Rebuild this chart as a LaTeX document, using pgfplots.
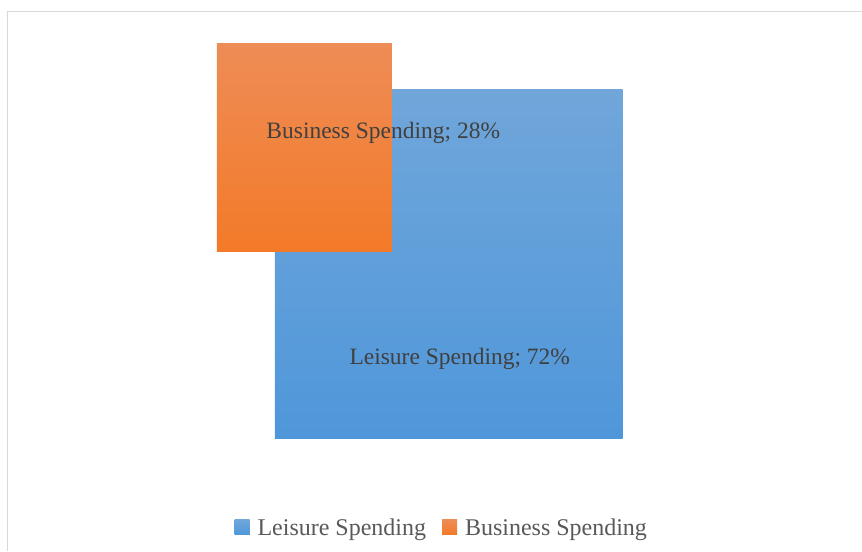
\documentclass[border=0pt]{standalone}
\usepackage{pgfplots}
\pgfplotsset{compat=1.18}
\usepackage{fontspec}
\setmainfont{Liberation Serif}
\definecolor{blueT}{HTML}{70A6DA}
\definecolor{blueB}{HTML}{4F97DA}
\definecolor{blueL}{HTML}{5B9BD5}
\definecolor{orT}{HTML}{EE8C56}
\definecolor{orB}{HTML}{F37A28}
\definecolor{orL}{HTML}{ED7D31}
\definecolor{lab}{HTML}{404040}
\definecolor{leg}{HTML}{595959}
\definecolor{frm}{HTML}{D9D9D9}
\begin{document}
\begin{tikzpicture}
\begin{axis}[
  width=862pt, height=551pt, scale only axis,
  xmin=0, xmax=862, ymin=0, ymax=551, y dir=reverse,
  hide axis, clip=false,
  legend columns=2,
  legend style={draw=none, fill=none, at={(axis cs:442,528)}, anchor=center,
    font=\fontsize{24}{26}\selectfont\color{leg}, inner sep=0pt,
    column sep=6pt, /tikz/every even column/.append style={column sep=14pt}},
]
\path (axis cs:0,0) rectangle (axis cs:862,551);
\draw[frm, line width=1pt] (axis cs:7.5,551) -- (axis cs:7.5,11.5) -- (axis cs:862,11.5);
% Leisure Spending 72%
\addplot[draw=none, top color=blueT, bottom color=blueB,
  legend image code/.code={\fill[blueL] (0pt,-7pt) rectangle (15pt,8pt);}]
  coordinates {(275,90) (623,90) (623,439) (275,439) (275,90)};
\addlegendentry{Leisure Spending}
% Business Spending 28%
\addplot[draw=none, top color=orT, bottom color=orB,
  legend image code/.code={\fill[orL] (0pt,-7pt) rectangle (15pt,8pt);}]
  coordinates {(217,44) (392,44) (392,252) (217,252) (217,44)};
\addlegendentry{Business Spending}
\node[lab, font=\fontsize{23.5}{25}\selectfont] at (axis cs:383.5,132.5) {Business Spending; 28\%};
\node[lab, font=\fontsize{23.5}{25}\selectfont] at (axis cs:460,359.5) {Leisure Spending; 72\%};
\end{axis}
\end{tikzpicture}
\end{document}
